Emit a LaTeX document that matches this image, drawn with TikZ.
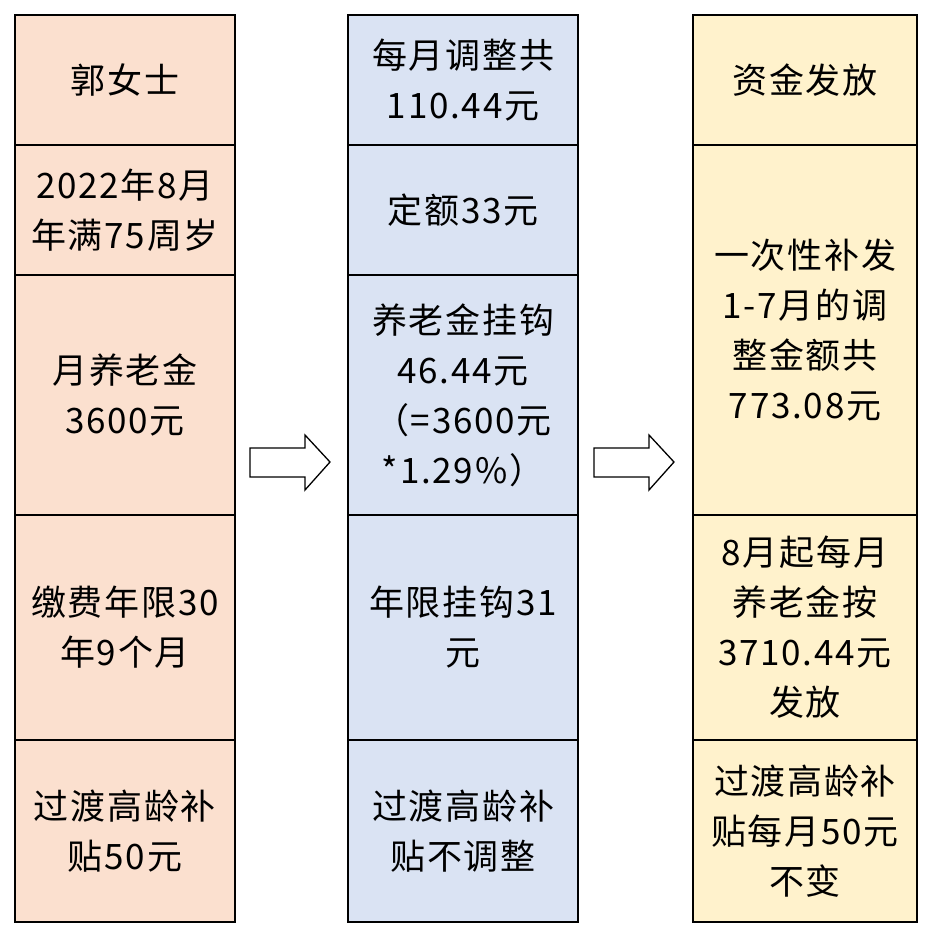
\documentclass[tikz,border=0pt]{standalone}
\usepackage{fontspec}
\newfontfamily\cjk[LetterSpace=5]{Noto Sans CJK SC}
\definecolor{ca}{HTML}{FBE0CF}
\definecolor{cb}{HTML}{DAE3F3}
\definecolor{cc}{HTML}{FFF2CC}
\begin{document}
\begin{tikzpicture}[x=1pt,y=-1pt,
 cell/.style={draw=black,line width=2.5pt,inner sep=0pt,align=center,font=\cjk\fontsize{35}{50}\selectfont},
 arr/.style={draw=black,line width=1.3pt,fill=white,line join=miter}]
\useasboundingbox (0,0) rectangle (934,940);
\newcommand\cellbox[6]{\node[cell,fill=#2,minimum width=#4-#3,minimum height=#6-#5] (#1) at ({(#3+#4)/2},{(#5+#6)/2}) {};}
\cellbox{a1}{ca}{15}{235}{15}{145}
\cellbox{a2}{ca}{15}{235}{145}{275}
\cellbox{a3}{ca}{15}{235}{275}{515}
\cellbox{a4}{ca}{15}{235}{515}{740}
\cellbox{a5}{ca}{15}{235}{740}{922}
\cellbox{b1}{cb}{348}{578}{15}{145}
\cellbox{b2}{cb}{348}{578}{145}{275}
\cellbox{b3}{cb}{348}{578}{275}{515}
\cellbox{b4}{cb}{348}{578}{515}{740}
\cellbox{b5}{cb}{348}{578}{740}{922}
\cellbox{c1}{cc}{693}{917}{15}{145}
\cellbox{c2}{cc}{693}{917}{145}{515}
\cellbox{c3}{cc}{693}{917}{515}{740}
\cellbox{c4}{cc}{693}{917}{740}{922}
\tikzset{t/.style={cell,draw=none}}
\node[t] at (a1) {郭女士};
\node[t] at (a2) {2022年8月\\年满75周岁};
\node[t] at (a3) {月养老金\\3600元};
\node[t] at (a4) {缴费年限30\\年9个月};
\node[t] at (a5) {过渡高龄补\\贴50元};
\node[t] at (b1) {每月调整共\\110.44元};
\node[t] at (b2) {定额33元};
\node[t] at (b3) {养老金挂钩\\46.44元\\（=3600元\\*1.29\%）};
\node[t] at (b4) {年限挂钩31\\元};
\node[t] at (b5) {过渡高龄补\\贴不调整};
\node[t] at (c1) {资金发放};
\node[t] at (c2) {一次性补发\\1-7月的调\\整金额共\\773.08元};
\node[t] at (c3) {8月起每月\\养老金按\\3710.44元\\发放};
\node[t] at (c4) {过渡高龄补\\贴每月50元\\不变};
\draw[arr] (250,448) -- (305,448) -- (305,435) -- (330,462) -- (305,490) -- (305,477) -- (250,477) -- cycle;
\draw[arr] (594,448) -- (649,448) -- (649,435) -- (674,462) -- (649,490) -- (649,477) -- (594,477) -- cycle;
\end{tikzpicture}
\end{document}
